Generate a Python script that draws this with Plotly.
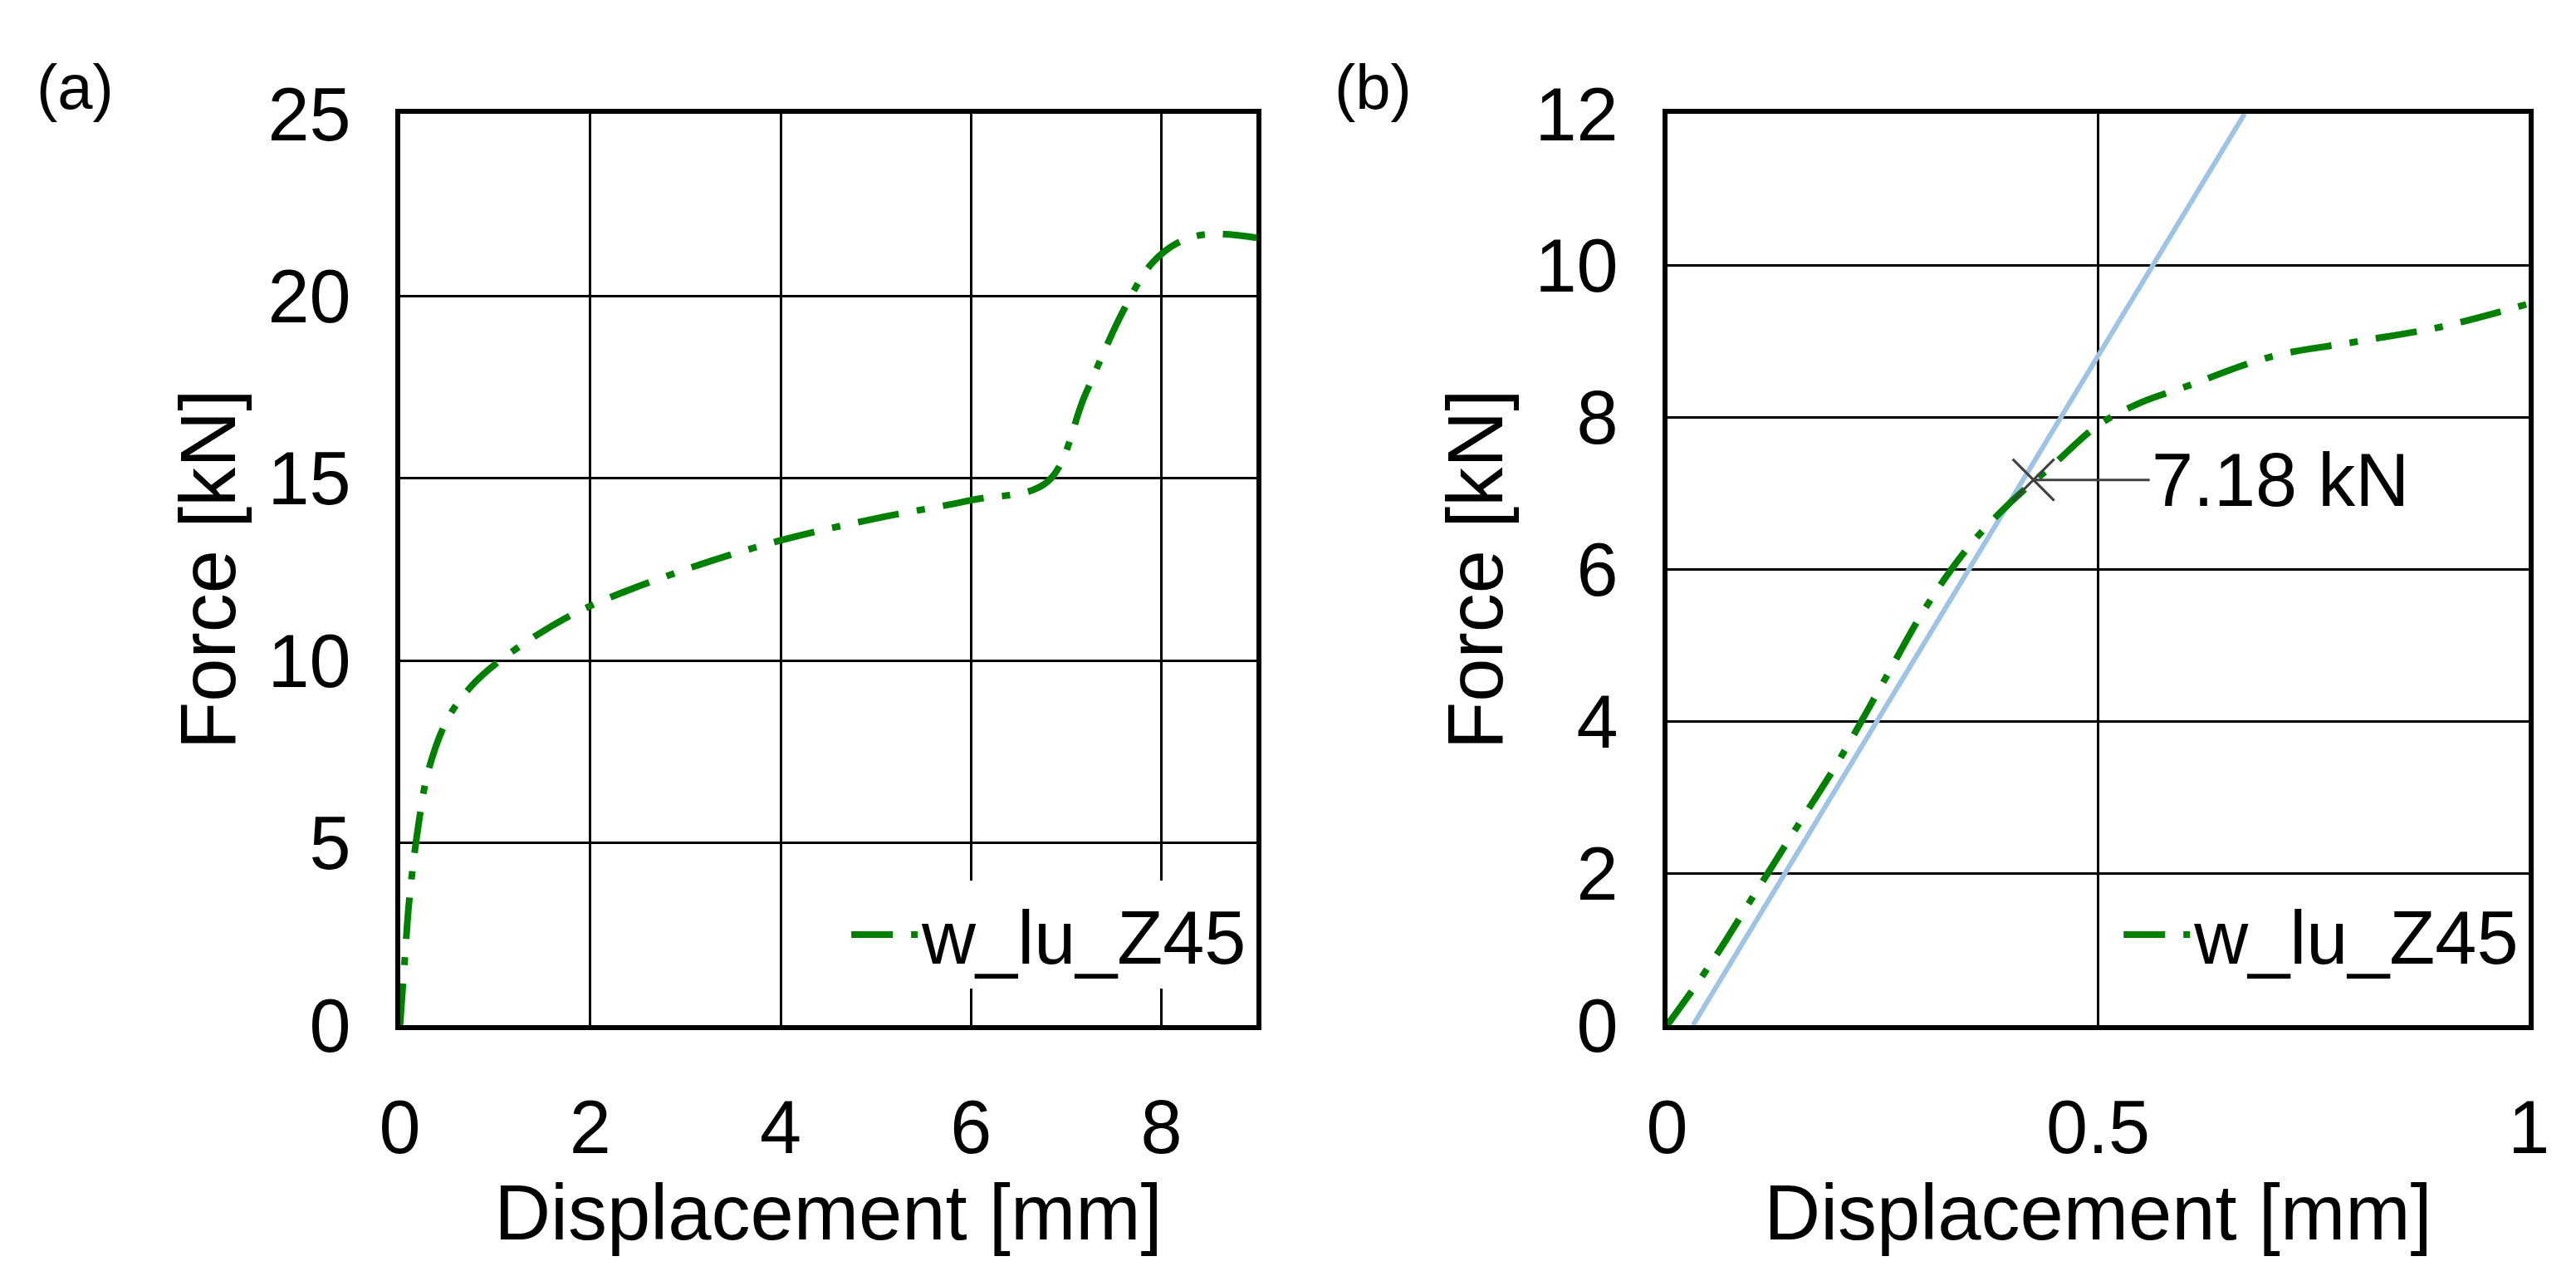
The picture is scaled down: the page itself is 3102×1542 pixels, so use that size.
import plotly.graph_objects as go

a_x = [0, 0.05, 0.1, 0.2, 0.3, 0.5, 0.75, 1.0, 1.5, 2.0, 3.0, 4.0, 5.0, 6.0, 6.8, 7.2, 7.6, 7.9, 8.2, 8.5, 9.0]
a_y = [0, 1.8, 3.5, 5.6, 7.0, 8.4, 9.3, 9.9, 10.8, 11.5, 12.5, 13.3, 13.9, 14.4, 14.9, 17.3, 19.6, 20.9, 21.5, 21.7, 21.6]
b_x = [0, 0.05, 0.1, 0.15, 0.2, 0.25, 0.3, 0.35, 0.4, 0.45, 0.5, 0.55, 0.6, 0.7, 0.8, 0.9, 1.0]
b_y = [0, 0.8, 1.7, 2.6, 3.5, 4.5, 5.5, 6.3, 6.9, 7.4, 7.9, 8.2, 8.4, 8.8, 9.0, 9.2, 9.5]
fit_x = [0.03, 0.67]
fit_y = [0, 12]
yield_x, yield_y = 0.425, 7.18
name = "w_lu_Z45"

F = "Liberation Sans, Arial, sans-serif"
DASH = "50px,22px,10px,22px"
fig = go.Figure()
fig.add_trace(go.Scatter(x=a_x, y=a_y, mode="lines", name=name, line=dict(color="#008000", width=8, dash=DASH, shape="spline"),
                         xaxis="x", yaxis="y", legend="legend"))
fig.add_trace(go.Scatter(x=fit_x, y=fit_y, mode="lines", showlegend=False, line=dict(color="#9dc3e6", width=6),
                         xaxis="x2", yaxis="y2"))
fig.add_trace(go.Scatter(x=b_x, y=b_y, mode="lines", name=name, line=dict(color="#008000", width=8, dash=DASH, shape="spline"),
                         xaxis="x2", yaxis="y2", legend="legend2"))
fig.add_trace(go.Scatter(x=[yield_x], y=[yield_y], mode="markers", showlegend=False,
                         marker=dict(symbol="x-thin", size=50, line=dict(color="#404040", width=3)),
                         xaxis="x2", yaxis="y2"))

ax = dict(showgrid=True, gridcolor="black", gridwidth=3, showline=True, linecolor="black", linewidth=6, mirror=True,
          ticks="", tickfont=dict(size=90, family=F, color="black"), zeroline=False,
          title_font=dict(size=94, family=F, color="black"))
fig.update_layout(
    width=3102, height=1542, paper_bgcolor="white", plot_bgcolor="white",
    margin=dict(l=0, r=0, t=129, b=316), font=dict(family=F, color="black"),
    xaxis=dict(ax, domain=[0.147, 0.485], range=[0, 9], dtick=2, title=dict(text="Displacement [mm]", standoff=0), ticklabelstandoff=40),
    yaxis=dict(ax, range=[0, 25], dtick=5, title=dict(text="Force [kN]", standoff=10), ticklabelstandoff=35),
    xaxis2=dict(ax, domain=[0.647, 0.987], range=[0, 1], tickvals=[0, 0.5, 1], ticktext=["0", "0.5", "1"], anchor="y2",
                title=dict(text="Displacement [mm]", standoff=0), ticklabelstandoff=40),
    yaxis2=dict(ax, range=[0, 12], dtick=2, anchor="x2", title=dict(text="Force [kN]", standoff=10), ticklabelstandoff=35),
    legend=dict(x=0.483, y=0.04, xanchor="right", yanchor="bottom", bgcolor="white", font=dict(size=90, family=F), itemwidth=80),
    legend2=dict(x=0.985, y=0.04, xanchor="right", yanchor="bottom", bgcolor="white", font=dict(size=90, family=F), itemwidth=80),
    annotations=[
        dict(text="(a)", xref="paper", yref="paper", x=0.003, y=1.07, xanchor="left", yanchor="top", showarrow=False, font=dict(size=76, family=F)),
        dict(text="(b)", xref="paper", yref="paper", x=0.515, y=1.07, xanchor="left", yanchor="top", showarrow=False, font=dict(size=76, family=F)),
        dict(text="7.18 kN", x=yield_x, y=yield_y, xref="x2", yref="y2", ax=140, ay=0, xanchor="left",
             showarrow=True, arrowhead=0, arrowwidth=3, arrowcolor="#404040", bgcolor="white", font=dict(size=90, family=F)),
    ],
)
fig.write_html("out.html")
